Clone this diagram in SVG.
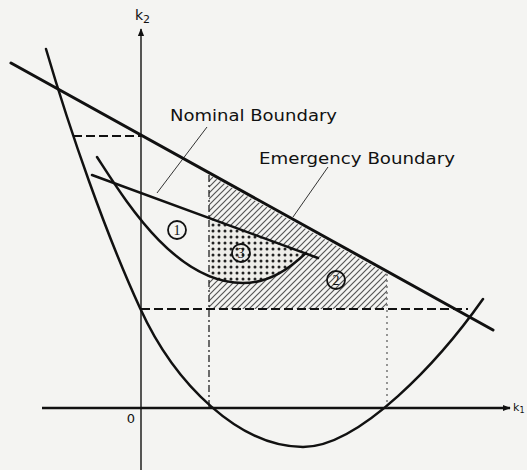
<svg xmlns="http://www.w3.org/2000/svg" width="527" height="470" viewBox="0 0 527 470">
<style>
.bg{fill:#f4f4f2}
.thick{fill:none;stroke:#111;stroke-width:3;stroke-linecap:round}
.curve{fill:none;stroke:#111;stroke-width:2.5;stroke-linecap:round}
.axis{fill:none;stroke:#111;stroke-width:1.4}
.dash{fill:none;stroke:#111;stroke-width:2;stroke-dasharray:9 4}
.vdash{fill:none;stroke:#222;stroke-width:1.3;stroke-dasharray:7 3 2 3}
.dot{fill:none;stroke:#555;stroke-width:1.2;stroke-dasharray:2 4}
.leader{fill:none;stroke:#333;stroke-width:1}
.lbl{font-family:"DejaVu Sans","Liberation Sans",sans-serif;fill:#111}
.num{font-family:"Liberation Serif",serif;font-size:14px;fill:#111;text-anchor:middle}
.ring{fill:none;stroke:#111;stroke-width:1.8}
</style>
<defs>
<pattern id="hatch" patternUnits="userSpaceOnUse" width="6" height="6">
<path d="M0,6 L6,0 M-1,1 L1,-1 M5,7 L7,5" stroke="#555" stroke-width="1.2"/>
</pattern>
<pattern id="stipple" patternUnits="userSpaceOnUse" width="6" height="6">
<rect width="6" height="6" fill="#eeede9"/>
<circle cx="3" cy="3" r="1.5" fill="#222"/>
</pattern>
<marker id="arr" viewBox="0 0 10 10" refX="9" refY="5" markerWidth="8" markerHeight="8" orient="auto" markerUnits="userSpaceOnUse">
<path d="M0,1 L10,5 L0,9 Z" fill="#111"/>
</marker>
</defs>
<rect class="bg" width="527" height="470"/>

<g id="regions">
<polygon id="region2" points="209,175 387,274 387,309 209,309" fill="url(#hatch)"/>
<path id="region3" d="M209,218 L305,254 C290,268 270,283 243,283 C228,283 217,280 209,276 Z" fill="url(#stipple)"/>
</g>

<g id="axes">
<line class="axis" x1="141" y1="470" x2="141" y2="29" marker-end="url(#arr)"/>
<line x1="42" y1="408" x2="510" y2="408" stroke="#111" stroke-width="2.6" marker-end="url(#arr)"/>
<text class="lbl" x="135" y="20" font-size="14">k<tspan font-size="11" dy="3">2</tspan></text>
<text class="lbl" x="131" y="423" font-size="13" text-anchor="middle">0</text>
<text class="lbl" x="513" y="411" font-size="11">k<tspan font-size="8" dy="2">1</tspan></text>
</g>

<g id="connectors">
<line class="dash" x1="73" y1="136" x2="141" y2="136"/>
<line class="dash" x1="141" y1="309" x2="468" y2="309"/>
<line class="vdash" x1="209" y1="175" x2="209" y2="408"/>
<line class="dot" x1="387" y1="274" x2="387" y2="408"/>
<line class="leader" x1="207" y1="127" x2="157" y2="193"/>
<line class="leader" x1="328" y1="167" x2="293" y2="217"/>
</g>

<g id="nominal-boundary-line">
<line class="thick" x1="11" y1="63" x2="493" y2="330"/>
</g>
<g id="emergency-curve">
<path class="curve" d="M46,49 C70,131 105,232 140,308 C175,385 240,447 303,447 C360,447 440,360 483,299"/>
</g>
<g id="inner-boundary">
<line class="curve" x1="92" y1="175" x2="318" y2="258"/>
<path class="curve" d="M97,157 C125,200 175,283 243,283 C270,283 290,268 306,253"/>
</g>

<g id="label-nominal">
<text class="lbl" x="170" y="121" font-size="15" textLength="167" lengthAdjust="spacingAndGlyphs">Nominal Boundary</text>
</g>
<g id="label-emergency">
<text class="lbl" x="259" y="164" font-size="15" textLength="196" lengthAdjust="spacingAndGlyphs">Emergency Boundary</text>
</g>
<g id="zone1">
<circle class="ring" cx="177" cy="230" r="9"/>
<text class="num" x="177" y="235">1</text>
</g>
<g id="zone2">
<circle class="ring" cx="336" cy="280" r="9" fill="#f4f4f2"/>
<text class="num" x="336" y="285">2</text>
</g>
<g id="zone3">
<circle class="ring" cx="241" cy="253" r="9" fill="#eeede9"/>
<text class="num" x="241" y="258">3</text>
</g>
</svg>
